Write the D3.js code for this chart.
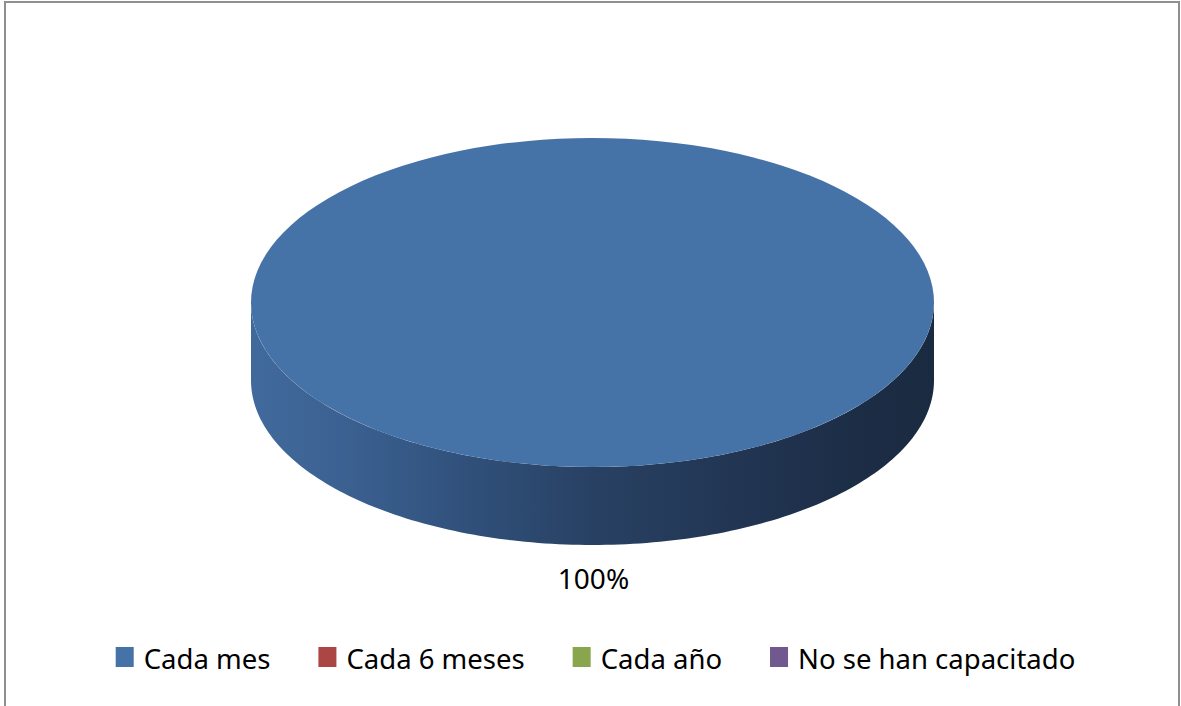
<!DOCTYPE html>
<html>
<head>
<meta charset="utf-8">
<script src="https://cdn.jsdelivr.net/npm/d3@7/dist/d3.min.js"></script>
<style>
  html, body { margin: 0; padding: 0; background: #fff; }
  svg { display: block; }
  text { font-family: "Noto Sans", "Open Sans", sans-serif; fill: #000; }
</style>
</head>
<body>
<svg id="chart" width="1181" height="706"></svg>
<script>
// Frequency of training sessions
const categories = ["Cada mes", "Cada 6 meses", "Cada año", "No se han capacitado"];
const values = [100, 0, 0, 0];
const colors = ["#4572A7", "#AA4643", "#89A54E", "#71588F"];
// shading of the wall, left to right
const wallStops = [
  [0.00, "#416a9c"],
  [0.15, "#3a6090"],
  [0.32, "#30507a"],
  [0.50, "#284163"],
  [0.70, "#223654"],
  [0.88, "#1c2d46"],
  [1.00, "#1a2a40"]
];

const W = 1181, H = 706;
const cx = 592.5, cy = 302.5, rx = 341.5, ry = 164.5, depth = 78;

const svg = d3.select("#chart");

// chart frame
svg.append("rect")
  .attr("x", 5).attr("y", 2)
  .attr("width", 1174).attr("height", 712)
  .attr("fill", "#fff")
  .attr("stroke", "#8f8f8f")
  .attr("stroke-width", 2);

const defs = svg.append("defs");
const grad = defs.append("linearGradient")
  .attr("id", "wall")
  .attr("gradientUnits", "userSpaceOnUse")
  .attr("x1", cx - rx).attr("y1", 0)
  .attr("x2", cx + rx).attr("y2", 0);
grad.selectAll("stop").data(wallStops).join("stop")
  .attr("offset", d => d[0])
  .attr("stop-color", d => d[1]);

const pie = d3.pie().sort(null).value(d => d);
const arcs = pie(values).map((a, i) => ({ ...a, i }));

// point on the rim; angle 0 at 12 o'clock, clockwise
const px = a => cx + rx * Math.sin(a);
const py = a => cy - ry * Math.cos(a);

function rimPath(a0, a1, dy) {
  const steps = Math.max(2, Math.ceil((a1 - a0) / 0.02));
  return d3.range(steps + 1).map(k => {
    const a = a0 + (a1 - a0) * k / steps;
    return [px(a), py(a) + dy];
  });
}

function topPath(d) {
  if (d.endAngle - d.startAngle >= 2 * Math.PI - 1e-6) {
    return `M${cx - rx},${cy}A${rx},${ry} 0 1,1 ${cx + rx},${cy}A${rx},${ry} 0 1,1 ${cx - rx},${cy}Z`;
  }
  const pts = rimPath(d.startAngle, d.endAngle, 0);
  return `M${cx},${cy}L` + pts.map(p => p.join(",")).join("L") + "Z";
}

function wallPath(d) {
  // only the front half of the rim is visible
  const a0 = Math.max(d.startAngle, Math.PI / 2);
  const a1 = Math.min(d.endAngle, 3 * Math.PI / 2);
  if (a1 <= a0) return null;
  const top = rimPath(a0, a1, 0);
  const bot = rimPath(a0, a1, depth).reverse();
  return "M" + top.concat(bot).map(p => p.join(",")).join("L") + "Z";
}

const shown = arcs.filter(d => d.value > 0);

svg.append("g").selectAll("path.wall").data(shown).join("path")
  .attr("class", "wall")
  .attr("d", wallPath)
  .attr("fill", "url(#wall)");

svg.append("g").selectAll("path.top").data(shown).join("path")
  .attr("class", "top")
  .attr("d", topPath)
  .attr("fill", d => colors[d.i]);

// percentage labels outside the slice
const total = d3.sum(values);
svg.append("g").selectAll("text").data(shown).join("text")
  .attr("x", d => px((d.startAngle + d.endAngle) / 2) + 1)
  .attr("y", d => py((d.startAngle + d.endAngle) / 2) + depth + 44)
  .attr("text-anchor", "middle")
  .attr("font-size", 28)
  .text(d => Math.round(d.value / total * 100) + "%");

// legend
const legend = svg.append("g");
const items = legend.selectAll("g").data(categories).join("g");
items.append("rect")
  .attr("width", 18).attr("height", 20)
  .attr("y", 647)
  .attr("fill", (d, i) => colors[i]);
items.append("text")
  .attr("x", 28).attr("y", 669)
  .attr("font-size", 27.5)
  .text(d => d);

let xpos = 0;
const gap = 48;
items.each(function () {
  const g = d3.select(this);
  const w = 28 + g.select("text").node().getComputedTextLength();
  g.attr("data-x", xpos);
  xpos += w + gap;
});
const totalW = xpos - gap;
const startX = 595.5 - totalW / 2;
items.attr("transform", function () {
  return `translate(${startX + (+this.getAttribute("data-x"))},0)`;
});
</script>
</body>
</html>
